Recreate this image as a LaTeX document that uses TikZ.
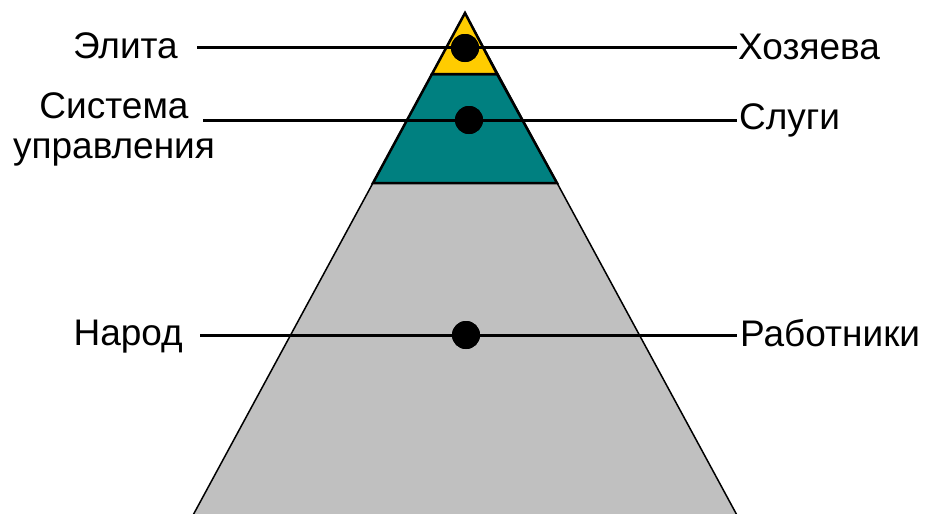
\documentclass[tikz,border=0pt]{standalone}
\usepackage{fontspec}
\setmainfont{Liberation Sans}
\definecolor{topyellow}{HTML}{FFCC00}
\definecolor{midteal}{HTML}{008080}
\definecolor{basegray}{HTML}{C0C0C0}
\begin{document}
\begin{tikzpicture}[x=1pt,y=-1pt,
  lbl/.style={font=\fontsize{37}{40}\selectfont, inner sep=1pt, text depth=0pt},
  dot/.style={circle, fill=black, minimum size=28pt, inner sep=0pt},
  link/.style={line width=3pt}]
\useasboundingbox (0,0) rectangle (929,514);
\clip (0,0) rectangle (929,514);
% pyramid
\draw[fill=basegray, line width=1.5pt] (465,13) -- (185,530) -- (745,530) -- cycle;
\draw[fill=midteal, line width=2.5pt] (432,74) -- (497,74) -- (557,183) -- (373,183) -- cycle;
\draw[fill=topyellow, line width=2.5pt, line join=miter] (465,13) -- (497,74) -- (432,74) -- cycle;
% anchors
\coordinate (l1) at (197,47);
\coordinate (r1) at (737,47);
\coordinate (l2) at (203,120);
\coordinate (r2) at (737,120);
\coordinate (l3) at (200,335);
\coordinate (r3) at (737,335);
% labels
\node[lbl, anchor=east] (elita) at (179,46) {Элита};
\node[lbl, anchor=west] (hoz) at (r1) {Хозяева};
\node[lbl, align=center, anchor=north] (sys) at (114,91) {Система\\управления};
\node[lbl, anchor=west] (slugi) at (738,117) {Слуги};
\node[lbl, anchor=east] (narod) at (184,333) {Народ};
\node[lbl, anchor=west] (rab) at (739,333) {Работники};
% dots
\node[dot] (d1) at (465,48) {};
\node[dot] (d2) at (469,120) {};
\node[dot] (d3) at (466,335) {};
% connectors
\draw[link] (l1) -- (r1);
\draw[link] (l2) -- (r2);
\draw[link] (l3) -- (r3);
\node[dot] at (d1) {};
\node[dot] at (d2) {};
\node[dot] at (d3) {};
\end{tikzpicture}
\end{document}
